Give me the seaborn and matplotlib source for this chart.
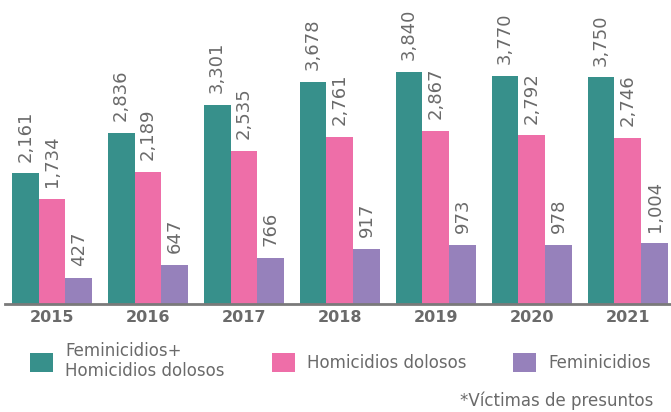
import pandas as pd
import numpy as np
import seaborn as sns
import matplotlib.pyplot as plt

years = ["2015", "2016", "2017", "2018", "2019", "2020", "2021"]
series = ["Feminicidios+\nHomicidios dolosos", "Homicidios dolosos", "Feminicidios"]
total = [2161, 2836, 3301, 3678, 3840, 3770, 3750]
homicidios = [1734, 2189, 2535, 2761, 2867, 2792, 2746]
feminicidios = [427, 647, 766, 917, 973, 978, 1004]
colors = ["#37908b", "#ee6ea8", "#9681bb"]
gray = "#6a6a6a"

df = pd.DataFrame({
    "year": years * 3,
    "serie": [series[0]] * 7 + [series[1]] * 7 + [series[2]] * 7,
    "value": total + homicidios + feminicidios,
})

sns.set_style("white")
plt.rcParams["font.family"] = ["DejaVu Sans"]

fig = plt.figure(figsize=[6.71, 4.12], dpi=100)
ax = fig.add_axes([5 / 671, 108 / 412, 666 / 671, 304 / 412])
sns.barplot(data=df, x="year", y="value", hue="serie", palette=colors,
            width=0.84, saturation=1, linewidth=0, ax=ax, legend=True)

# value labels, rotated
for cont in ax.containers:
    labels = ["{:,}".format(int(v)) for v in cont.datavalues]
    ax.bar_label(cont, labels=labels, rotation=90, padding=8.5, fontsize=13,
                 color=gray)

ax.set_xlim(-0.49, 6.45)
ax.set_ylim(0, 5032)
ax.set_yticks([])
ax.set_xlabel("")
ax.set_ylabel("")
for s in ["top", "right", "left"]:
    ax.spines[s].set_visible(False)
ax.spines["bottom"].set_color("#7a7a7a")
ax.spines["bottom"].set_linewidth(2)
ax.tick_params(axis="x", length=0, pad=4, labelsize=11.5, labelcolor=gray)
for t in ax.get_xticklabels():
    t.set_fontweight("bold")

handles, labs = ax.get_legend_handles_labels()
ax.get_legend().remove()
fig.legend(handles, labs, loc="center left", bbox_to_anchor=(15 / 671, 1 - 361 / 412),
           ncol=3, frameon=False, handlelength=1.4, handleheight=1.4,
           handletextpad=0.72, columnspacing=2.8, labelcolor=gray,
           prop={"size": 12})

fig.text(653 / 671, 1 - 401 / 412, "*Víctimas de presuntos", ha="right", va="center",
         fontsize=12, color=gray)

plt.savefig("out.png", dpi=100)
